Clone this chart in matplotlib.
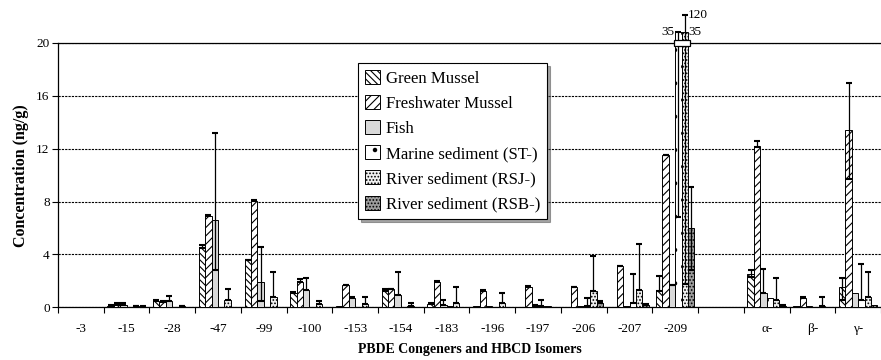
import numpy as np
import matplotlib
matplotlib.use("Agg")
import matplotlib.pyplot as plt
from matplotlib.patches import Rectangle

plt.rcParams['font.family'] = ['Liberation Serif', 'DejaVu Serif']
plt.rcParams['hatch.linewidth'] = 0.8

# congeners / isomers (empty slot separates PBDE from HBCD)
groups = ['-3', '-15', '-28', '-47', '-99', '-100', '-153', '-154', '-183',
          '-196', '-197', '-206', '-207', '-209', '', 'α-', 'β-', 'γ-']
series = ['Green Mussel', 'Freshwater Mussel', 'Fish', 'Marine sediment (ST-)',
          'River sediment (RSJ-)', 'River sediment (RSB-)']

nan = np.nan
green  = [0.02, 0.10, 0.50, 4.50, 3.55, 1.10, 0.10, 1.20, 0.25, 0.10, 0.05, 0.05, 0.05, 1.20, nan, 2.50, 0.10, 1.50]
fresh  = [0.02, 0.20, 0.40, 6.90, 8.05, 1.95, 1.65, 1.35, 1.95, 1.20, 1.55, 1.50, 3.10, 11.5, nan, 12.2, 0.70, 13.4]
fish   = [0.02, 0.15, 0.50, 6.60, 1.95, 1.30, 0.70, 0.95, 0.20, 0.10, 0.10, 0.10, 0.10, 1.65, nan, 1.10, 0.10, 1.10]
marine = [0.02, 0.02, 0.02, 0.05, 0.05, 0.05, 0.05, 0.05, 0.10, 0.05, 0.10, 0.10, 0.30, 35.0, nan, 0.70, 0.05, 0.55]
rsj    = [0.02, 0.08, 0.08, 0.55, 0.75, 0.25, 0.25, 0.10, 0.35, 0.35, 0.10, 1.20, 1.30, 35.0, nan, 0.55, 0.10, 0.80]
rsb    = [0.02, 0.05, 0.05, 0.05, 0.05, 0.05, 0.05, 0.05, 0.05, 0.05, 0.05, 0.30, 0.20, 6.00, nan, 0.10, 0.05, 0.20]

# upper error (added to value)
green_up  = [0, 0.05, 0.05, 0.25, 0.05, 0.05, 0, 0.15, 0.05, 0, 0, 0, 0, 1.20, 0, 0.30, 0, 0.75]
fresh_up  = [0, 0.10, 0.05, 0.10, 0.05, 0.20, 0.05, 0.05, 0.05, 0.10, 0.05, 0.05, 0.05, 0.05, 0, 0.40, 0.05, 3.60]
fish_up   = [0, 0.15, 0.35, 6.60, 2.65, 0.95, 0.05, 1.70, 0.35, 0, 0.05, 0, 0, 0.05, 0, 1.80, 0, 0]
marine_up = [0, 0, 0, 0, 0, 0, 0, 0, 0, 0, 0.45, 0.60, 2.20, 0, 0, 0, 0, 2.75]
rsj_up    = [0, 0.03, 0.02, 0.85, 1.90, 0.20, 0.50, 0.25, 1.20, 0.75, 0, 2.70, 3.50, 85.0, 0, 1.70, 0.70, 1.90]
rsb_up    = [0, 0.02, 0, 0, 0, 0, 0, 0, 0, 0, 0, 0.15, 0.05, 3.10, 0, 0.05, 0, 0]

# lower error (subtracted from value)
green_lo  = [0] * 15 + [0.2, 0, 0.95]
fresh_lo  = [0] * 15 + [0.1, 0, 3.7]
fish_lo   = [0, 0, 0, 3.8, 1.5] + [0] * 13
marine_lo = [0] * 13 + [28.2, 0, 0, 0, 0]
rsj_lo    = [0] * 13 + [33.2, 0, 0, 0, 0]
rsb_lo    = [0] * 13 + [3.2, 0, 0, 0, 0]

values = [green, fresh, fish, marine, rsj, rsb]
ups = [green_up, fresh_up, fish_up, marine_up, rsj_up, rsb_up]
los = [green_lo, fresh_lo, fish_lo, marine_lo, rsj_lo, rsb_lo]

styles = [
    dict(facecolor='white', hatch='\\\\\\\\\\'),
    dict(facecolor='white', hatch='////'),
    dict(facecolor='#d9d9d9', hatch=None),
    dict(facecolor='white', hatch='.'),
    dict(facecolor='#f0f0f0', hatch='.....'),
    dict(facecolor='#9c9c9c', hatch='.....'),
]


def shown(v):
    # axis break above 20: 35 -> just over the top, 120 -> a little higher
    v = np.asarray(v, float)
    return np.where(v > 20, 20.8 + (v - 35) * 1.3 / 85, v)


fig = plt.figure(figsize=(8.81, 3.6), dpi=100)
ax = fig.add_axes([0.0658, 0.1464, 0.9342, 0.7342])

x = np.arange(len(groups))
w = 0.14
for j, (vals, up, lo, st, name) in enumerate(zip(values, ups, los, styles, series)):
    vals = np.array(vals, float)
    up = np.array(up, float)
    lo = np.array(lo, float)
    xs = x + (j - 2.5) * w
    ax.bar(xs, shown(vals), width=w, edgecolor='black', linewidth=0.7,
           label=name, clip_on=False, zorder=3, **st)
    m = ((up > 0) | (lo > 0)) & ~np.isnan(vals)
    dv = shown(vals[m])
    yerr = [dv - shown(vals[m] - lo[m]), shown(vals[m] + up[m]) - dv]
    eb = ax.errorbar(xs[m], dv, yerr=yerr, fmt='none', ecolor='black',
                     elinewidth=0.9, capsize=2.4, capthick=1.5, zorder=4)
    for art in list(eb.lines[1]) + list(eb.lines[2]):
        art.set_clip_on(False)

# break marker and off-scale labels for -209
i209 = groups.index('-209')
xm = i209 + (3 - 2.5) * w
xr = i209 + (4 - 2.5) * w
ax.add_patch(Rectangle((xm - w * 0.75, 19.78), xr - xm + w * 1.5, 0.44,
                       facecolor='white', edgecolor='black', lw=0.9,
                       clip_on=False, zorder=5))
ax.text(xm - w * 0.7, shown(marine[i209]) + 0.05, '35', ha='right', va='center', fontsize=9.5)
ax.text(xr + w * 0.5, shown(rsj[i209]) + 0.05, '35', ha='left', va='center', fontsize=9.5)
ax.text(xr + w * 0.5, shown(rsj[i209] + rsj_up[i209]), '120', ha='left', va='center', fontsize=9.5)

ax.set_ylim(0, 20)
ax.set_xlim(-0.5, -0.5 + 823 / 46.2)
ax.set_yticks([0, 4, 8, 12, 16, 20])
ax.tick_params(axis='y', labelsize=9.5, length=4, width=0.8, pad=2)
ax.set_xticks(x)
ax.set_xticklabels(groups)
ax.set_xticks(np.arange(len(groups) + 1) - 0.5, minor=True)
ax.tick_params(axis='x', which='major', length=0, labelsize=9.5, pad=11)
ax.tick_params(axis='x', which='minor', length=4, width=0.8)

ax.yaxis.grid(True, linestyle=(0, (2, 1)), color='black', linewidth=0.8)
ax.set_axisbelow(True)
ax.spines['right'].set_visible(False)
for s in ['top', 'left', 'bottom']:
    ax.spines[s].set_linewidth(0.9)

ax.set_ylabel('Concentration (ng/g)', fontsize=11.5, fontweight='bold', labelpad=5)
ax.set_xlabel('PBDE Congeners and HBCD Isomers', fontsize=10, fontweight='bold', labelpad=6)

leg = ax.legend(loc='upper left', bbox_to_anchor=(0.3645, 0.924), borderaxespad=0,
                fontsize=12.1, frameon=True, fancybox=False, shadow=True,
                handlelength=0.9, handleheight=0.9, handletextpad=0.35,
                labelspacing=0.5, borderpad=0.4)
leg.get_frame().set_edgecolor('black')
leg.get_frame().set_linewidth(0.8)
leg.set_zorder(10)

fig.savefig('out.png', dpi=100)
